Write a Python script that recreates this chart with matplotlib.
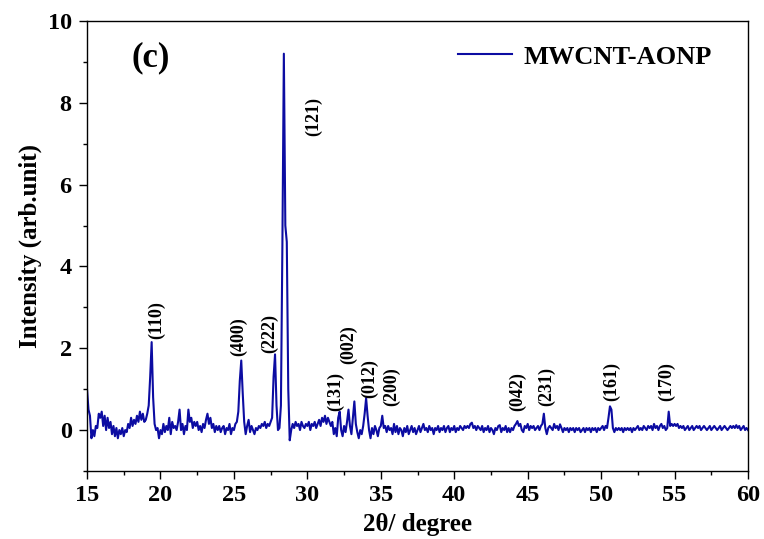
import numpy as np
import matplotlib.pyplot as plt
from matplotlib.ticker import MultipleLocator

plt.rcParams["font.family"] = ["Liberation Serif", "DejaVu Serif"]
plt.rcParams["font.weight"] = "bold"

# XRD scan, 15-60 deg in 0.1 deg steps (one row per degree)
scan_start = 15.0
scan_step = 0.1
intensity = [
    1.0, 0.5, 0.35, -0.2, 0.0, -0.15, 0.1, 0.05, 0.4, 0.3,            # 15
    0.45, 0.1, 0.35, 0.0, 0.3, 0.05, 0.2, -0.1, 0.1, -0.15,           # 16
    0.05, -0.2, 0.0, -0.1, 0.05, -0.15, 0.0, -0.05, 0.15, 0.05,       # 17
    0.3, 0.1, 0.25, 0.15, 0.35, 0.2, 0.45, 0.25, 0.4, 0.2,            # 18
    0.25, 0.4, 0.6, 1.3, 2.15, 0.8, 0.15, 0.0, 0.05, -0.2,            # 19
    0.0, -0.1, 0.15, -0.05, 0.1, 0.0, 0.3, -0.1, 0.2, 0.05,           # 20
    0.1, 0.0, 0.2, 0.5, 0.0, 0.15, -0.1, 0.1, 0.0, 0.5,               # 21
    0.2, 0.3, 0.05, 0.2, 0.1, 0.2, 0.0, 0.1, -0.05, 0.15,             # 22
    0.05, 0.25, 0.4, 0.15, 0.3, 0.05, 0.15, -0.05, 0.1, 0.0,          # 23
    0.1, -0.05, 0.05, 0.1, -0.1, 0.05, 0.0, 0.15, -0.1, 0.05,         # 24
    0.0, 0.15, 0.2, 0.45, 1.2, 1.7, 0.9, 0.2, -0.1, 0.1,              # 25
    0.25, -0.05, 0.1, 0.0, -0.1, 0.05, 0.0, 0.1, 0.05, 0.15,          # 26
    0.1, 0.2, 0.05, 0.15, 0.1, 0.2, 0.3, 1.3, 1.85, 0.6,              # 27
    0.0, 0.05, 0.6, 4.5, 9.2, 5.0, 4.6, 1.0, -0.25, 0.0,              # 28
    0.15, 0.05, 0.2, 0.1, 0.15, 0.0, 0.2, 0.1, 0.05, 0.15,            # 29
    0.1, 0.2, 0.0, 0.15, 0.1, 0.2, 0.05, 0.15, 0.25, 0.1,             # 30
    0.3, 0.2, 0.35, 0.15, 0.3, 0.2, 0.1, 0.2, -0.1, 0.05,             # 31
    -0.15, 0.3, 0.45, 0.0, -0.15, 0.1, -0.05, 0.2, 0.5, 0.1,          # 32
    -0.1, 0.3, 0.7, 0.15, -0.05, -0.2, 0.0, -0.1, 0.1, 0.4,           # 33
    0.78, 0.35, 0.0, -0.2, 0.05, -0.1, 0.1, 0.0, -0.15, 0.05,         # 34
    0.1, 0.35, 0.05, 0.1, -0.05, 0.1, 0.0, 0.05, -0.1, 0.15,          # 35
    -0.05, 0.1, -0.1, 0.05, 0.0, -0.15, 0.05, -0.05, 0.1, -0.1,       # 36
    0.0, 0.1, -0.05, 0.05, -0.1, 0.0, 0.1, -0.05, 0.05, 0.15,         # 37
    0.0, 0.05, -0.05, 0.1, 0.0, 0.05, -0.1, 0.05, 0.0, 0.1,           # 38
    -0.05, 0.05, 0.0, 0.1, -0.05, 0.05, 0.1, -0.05, 0.05, 0.0,        # 39
    0.1, -0.05, 0.05, 0.0, 0.1, 0.05, 0.0, 0.1, 0.05, 0.1,            # 40
    0.05, 0.15, 0.18, 0.05, 0.1, 0.0, 0.1, 0.05, 0.0, 0.1,            # 41
    -0.05, 0.05, 0.0, 0.1, -0.05, 0.05, 0.0, -0.1, 0.05, 0.0,         # 42
    0.1, 0.12, -0.05, 0.05, 0.0, 0.1, -0.05, 0.05, -0.05, 0.05,       # 43
    0.0, 0.1, 0.15, 0.22, 0.1, 0.15, 0.0, -0.05, 0.1, 0.05,           # 44
    0.15, 0.0, 0.1, 0.05, 0.1, 0.0, 0.05, 0.1, 0.0, 0.1,              # 45
    0.15, 0.4, 0.05, -0.1, 0.05, 0.1, 0.05, 0.0, 0.15, 0.05,          # 46
    0.1, 0.0, 0.14, 0.05, -0.05, 0.05, 0.0, 0.05, -0.05, 0.05,        # 47
    0.0, 0.05, -0.05, 0.05, 0.0, 0.05, -0.05, 0.0, 0.05, -0.05,       # 48
    0.05, 0.0, 0.05, -0.05, 0.05, 0.0, 0.05, -0.05, 0.05, 0.0,        # 49
    0.05, 0.1, 0.0, 0.1, 0.05, 0.3, 0.58, 0.5, 0.05, -0.05,           # 50
    0.05, 0.0, 0.05, 0.0, 0.05, -0.05, 0.05, 0.0, 0.05, 0.0,          # 51
    0.05, -0.05, 0.05, 0.0, 0.05, 0.1, 0.0, 0.05, 0.0, 0.1,           # 52
    0.05, 0.0, 0.1, 0.05, 0.1, 0.0, 0.15, 0.05, 0.1, 0.0,             # 53
    0.1, 0.15, 0.05, 0.1, 0.0, 0.05, 0.45, 0.1, 0.15, 0.1,            # 54
    0.15, 0.1, 0.15, 0.05, 0.1, 0.05, 0.1, 0.0, 0.05, 0.1,            # 55
    0.0, 0.05, 0.1, 0.0, 0.05, 0.1, 0.05, 0.1, 0.0, 0.05,             # 56
    0.1, 0.05, 0.0, 0.05, 0.1, 0.0, 0.05, 0.1, 0.05, 0.0,             # 57
    0.05, 0.1, 0.0, 0.05, 0.1, 0.05, 0.0, 0.05, 0.1, 0.05,            # 58
    0.1, 0.05, 0.12, 0.05, 0.1, 0.0, 0.05, 0.1, 0.0, 0.05,            # 59
    0.0,                                                              # 60
]
two_theta = scan_start + scan_step * np.arange(len(intensity))

# Miller index annotations
hkl_labels = ["(110)", "(400)", "(222)", "(121)", "(131)", "(002)",
              "(012)", "(200)", "(042)", "(231)", "(161)", "(170)"]
hkl_x = [19.77, 25.3, 27.45, 30.4, 31.9, 32.8, 34.26, 35.76, 44.3, 46.3, 50.7, 54.46]
hkl_y = [2.23, 1.81, 1.89, 7.18, 0.47, 1.62, 0.78, 0.59, 0.47, 0.59, 0.71, 0.71]

series_name = "MWCNT-AONP"
line_color = "#0c0ca2"

fig = plt.figure(figsize=(7.64, 5.39), dpi=100)
ax = fig.add_axes([0.1139, 0.1262, 0.8652, 0.8349])

ax.plot(two_theta, intensity, color=line_color, linewidth=1.5, label=series_name)

for lab, x, y in zip(hkl_labels, hkl_x, hkl_y):
    ax.text(x, y, lab, rotation=90, ha="center", va="bottom",
            fontsize=13, fontweight="bold")

ax.text(0.097, 0.918, "(c)", transform=ax.transAxes, ha="center", va="center",
        fontsize=25, fontweight="bold")

ax.set_xlim(15, 60)
ax.set_ylim(-1, 10)
ax.xaxis.set_major_locator(MultipleLocator(5))
ax.xaxis.set_minor_locator(MultipleLocator(2.5))
ax.yaxis.set_major_locator(MultipleLocator(2))
ax.yaxis.set_minor_locator(MultipleLocator(1))
ax.tick_params(which="major", direction="out", length=6, width=1.0, labelsize=17.5)
ax.tick_params(which="minor", direction="out", length=3, width=1.0)
ax.tick_params(axis="x", which="major", pad=4)
ax.tick_params(axis="y", which="major", pad=5)
for lab in ax.get_xticklabels() + ax.get_yticklabels():
    lab.set_fontweight("bold")
for sp in ax.spines.values():
    sp.set_linewidth(1.0)

ax.set_xlabel("2θ/ degree", fontsize=18, fontweight="bold", labelpad=5)
ax.set_ylabel("Intensity (arb.unit)", fontsize=18, fontweight="bold", labelpad=4)

leg = ax.legend(loc="center left", bbox_to_anchor=(0.561, 0.92), frameon=False,
                handlelength=2.05, handletextpad=0.42, borderpad=0, borderaxespad=0,
                prop={"size": 19, "weight": "bold"})

fig.savefig("out.png", dpi=100)
